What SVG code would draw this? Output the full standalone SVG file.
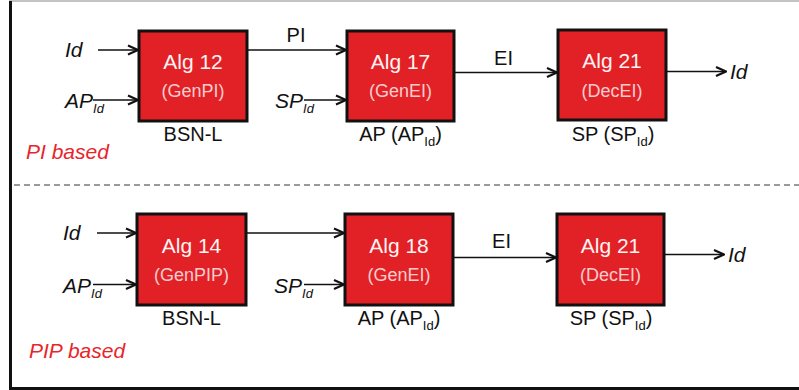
<svg xmlns="http://www.w3.org/2000/svg" width="799" height="390" viewBox="0 0 799 390">
  <style>
    .box { fill: #e22127; stroke: #111; stroke-width: 3; }
    .alg { font-family: "Liberation Sans", Arial, sans-serif; font-size: 21px; fill: #fff3f3; text-anchor: middle; }
    .fn { font-family: "Liberation Sans", Arial, sans-serif; font-size: 18px; fill: #f8cccc; text-anchor: middle; }
    .lbl { font-family: "Liberation Sans", Arial, sans-serif; font-size: 20px; fill: #111; }
    .mid { text-anchor: middle; }
    .it { font-family: "Liberation Sans", Arial, sans-serif; font-size: 21px; font-style: italic; fill: #111; }
    .sub { font-size: 13px; }
    .tag { font-family: "Liberation Sans", Arial, sans-serif; font-size: 21px; font-style: italic; fill: #e8252b; }
    .wire { stroke: #111; stroke-width: 1.6; fill: none; marker-end: url(#head); }
  </style>
  <defs>
    <marker id="head" markerUnits="userSpaceOnUse" viewBox="0 0 12 12" refX="11" refY="6" markerWidth="12" markerHeight="12" orient="auto">
      <path d="M1,1.5 L11,6 L1,10.5" fill="none" stroke="#111" stroke-width="2.2" stroke-linejoin="miter"/>
    </marker>
  </defs>

  <!-- frame -->
  <rect x="0" y="0" width="799" height="390" fill="#fff"/>
  <line x1="9" y1="1" x2="799" y2="1" stroke="#888" stroke-width="1"/>
  <rect x="9" y="1" width="3" height="389" fill="#111"/>
  <rect x="9" y="387" width="790" height="3" fill="#111"/>
  <line x1="14" y1="185" x2="799" y2="185" stroke="#7a7a7a" stroke-width="1.5" stroke-dasharray="6 4"/>

  <!-- PI based scheme -->
  <g id="bsn-l-genpi">
    <rect class="box" x="139" y="31" width="108" height="90"/>
    <text class="alg" x="193" y="69">Alg 12</text>
    <text class="fn" x="193" y="97">(GenPI)</text>
    <text class="lbl mid" x="193" y="141">BSN-L</text>
  </g>
  <g id="ap-genei-1">
    <rect class="box" x="347" y="31" width="107" height="90"/>
    <text class="alg" x="400.5" y="69">Alg 17</text>
    <text class="fn" x="400.5" y="97">(GenEI)</text>
    <text class="lbl mid" x="400.5" y="141">AP (AP<tspan class="sub" dy="5">Id</tspan><tspan dy="-5">)</tspan></text>
  </g>
  <g id="sp-decei-1">
    <rect class="box" x="558" y="30" width="108" height="90"/>
    <text class="alg" x="612" y="68">Alg 21</text>
    <text class="fn" x="612" y="97">(DecEI)</text>
    <text class="lbl mid" x="613" y="141">SP (SP<tspan class="sub" dy="5">Id</tspan><tspan dy="-5">)</tspan></text>
  </g>
  <g id="inputs-1">
    <text class="it" x="65" y="57">Id</text>
    <text class="it" x="65" y="108">AP<tspan class="sub" dy="5">Id</tspan></text>
    <text class="it" x="275" y="108">SP<tspan class="sub" dy="5">Id</tspan></text>
    <text class="it" x="730" y="79">Id</text>
    <text class="tag" x="26" y="159">PI based</text>
  </g>

  <!-- PIP based scheme -->
  <g id="bsn-l-genpip">
    <rect class="box" x="137" y="214" width="109" height="91"/>
    <text class="alg" x="191.5" y="252.5">Alg 14</text>
    <text class="fn" x="191.5" y="281">(GenPIP)</text>
    <text class="lbl mid" x="191.5" y="325">BSN-L</text>
  </g>
  <g id="ap-genei-2">
    <rect class="box" x="345" y="214" width="108" height="91"/>
    <text class="alg" x="399" y="252.5">Alg 18</text>
    <text class="fn" x="399" y="281">(GenEI)</text>
    <text class="lbl mid" x="399" y="325">AP (AP<tspan class="sub" dy="5">Id</tspan><tspan dy="-5">)</tspan></text>
  </g>
  <g id="sp-decei-2">
    <rect class="box" x="557" y="214" width="107" height="91"/>
    <text class="alg" x="610.5" y="252.5">Alg 21</text>
    <text class="fn" x="610.5" y="281">(DecEI)</text>
    <text class="lbl mid" x="611" y="325">SP (SP<tspan class="sub" dy="5">Id</tspan><tspan dy="-5">)</tspan></text>
  </g>
  <g id="inputs-2">
    <text class="it" x="63" y="240">Id</text>
    <text class="it" x="63" y="293">AP<tspan class="sub" dy="5">Id</tspan></text>
    <text class="it" x="274" y="293">SP<tspan class="sub" dy="5">Id</tspan></text>
    <text class="it" x="728" y="262">Id</text>
    <text class="tag" x="29" y="358">PIP based</text>
  </g>

  <!-- connectors -->
  <g id="connectors">
    <line class="wire" x1="98" y1="50" x2="138" y2="50"/>
    <line class="wire" x1="93" y1="100" x2="138" y2="100"/>
    <line class="wire" x1="248" y1="50" x2="346" y2="50"/>
    <text class="lbl mid" x="296" y="42">PI</text>
    <line class="wire" x1="304" y1="100" x2="346" y2="100"/>
    <line class="wire" x1="455" y1="72.5" x2="557" y2="72.5"/>
    <text class="lbl mid" x="503.5" y="65">EI</text>
    <line class="wire" x1="667" y1="71.5" x2="726" y2="71.5"/>

    <line class="wire" x1="97" y1="233" x2="136" y2="233"/>
    <line class="wire" x1="93" y1="284.5" x2="136" y2="284.5"/>
    <line class="wire" x1="247" y1="233" x2="344" y2="233"/>
    <line class="wire" x1="304" y1="284.5" x2="344" y2="284.5"/>
    <line class="wire" x1="454" y1="257.5" x2="556" y2="257.5"/>
    <text class="lbl mid" x="501.5" y="248">EI</text>
    <line class="wire" x1="665" y1="254.5" x2="724" y2="254.5"/>
  </g>
</svg>
